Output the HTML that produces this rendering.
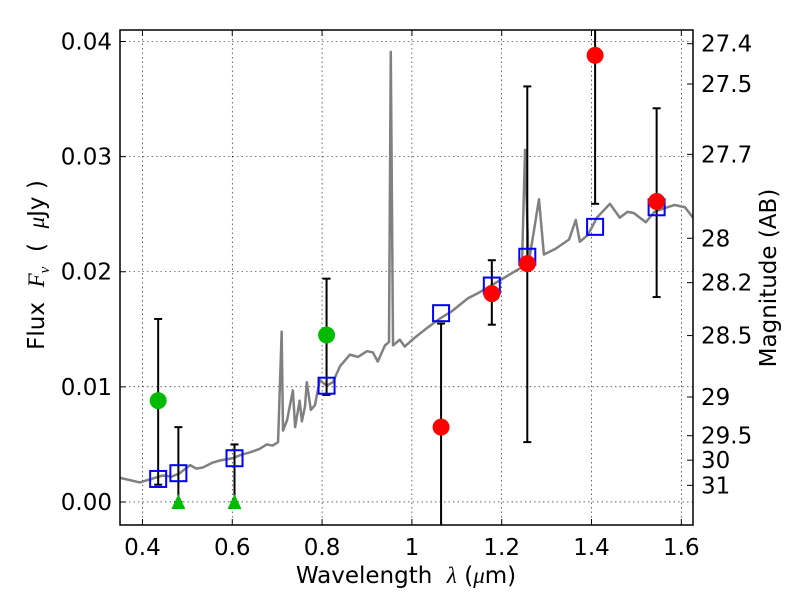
<!DOCTYPE html>
<html><head><meta charset="utf-8"><style>
body{margin:0;background:#fff}
svg{display:block;font-family:"DejaVu Sans","Liberation Sans",sans-serif}
text{white-space:pre}
</style></head><body>
<svg id="chart" width="800" height="600"></svg>
<script>
const xTicks=[0.4,0.6,0.8,1.0,1.2,1.4,1.6];
const xTickLabels=["0.4","0.6","0.8","1","1.2","1.4","1.6"];
const yTicks=[0,0.01,0.02,0.03,0.04];
const yTickLabels=["0.00","0.01","0.02","0.03","0.04"];
const magTicks=[27.4,27.5,27.7,28,28.2,28.5,29,29.5,30,31];
const specLam=[0.35,0.372,0.394,0.42,0.445,0.465,0.483,0.506,0.52,0.535,0.555,0.572,0.6,0.62,0.639,0.66,0.677,0.69,0.702,0.710,0.713,0.722,0.735,0.740,0.750,0.755,0.762,0.766,0.775,0.784,0.795,0.81,0.824,0.84,0.862,0.88,0.9,0.913,0.924,0.94,0.949,0.953,0.958,0.973,0.984,1.004,1.03,1.065,1.09,1.125,1.15,1.185,1.215,1.245,1.252,1.26,1.283,1.294,1.32,1.35,1.365,1.374,1.392,1.412,1.441,1.463,1.48,1.494,1.521,1.54,1.561,1.585,1.608,1.626];
const specFlux=[0.0021,0.0019,0.0017,0.0020,0.0023,0.0022,0.0025,0.0032,0.0029,0.0030,0.0034,0.0036,0.0038,0.0041,0.0043,0.0046,0.0050,0.0049,0.0052,0.0148,0.0062,0.0071,0.0097,0.0065,0.0088,0.0070,0.0083,0.0104,0.0080,0.0084,0.0106,0.0101,0.0104,0.0118,0.0128,0.0126,0.0131,0.0130,0.0122,0.0136,0.0139,0.0391,0.0136,0.0141,0.0135,0.0142,0.0150,0.0160,0.0166,0.0177,0.0182,0.0190,0.0197,0.0204,0.0306,0.0207,0.0263,0.0215,0.0220,0.0228,0.0245,0.0226,0.0232,0.0247,0.0259,0.0247,0.0252,0.0251,0.0243,0.0252,0.0255,0.0258,0.0256,0.0247];
const modelLam=[0.435,0.48,0.605,0.81,1.065,1.178,1.257,1.408,1.545];
const modelFlux=[0.0020,0.0025,0.0038,0.0101,0.0164,0.0188,0.0213,0.0239,0.0256];
const greenLam=[0.435,0.81];
const greenFlux=[0.0088,0.0145];
const greenLo=[0.0015,0.0093];
const greenHi=[0.0159,0.0194];
const limLam=[0.48,0.605];
const limFlux=[0,0];
const limHi=[0.0065,0.0050];
const redLam=[1.065,1.178,1.257,1.408,1.545];
const redFlux=[0.0065,0.0181,0.0207,0.0388,0.0261];
const redLo=[-0.01,0.0154,0.0052,0.0259,0.0178];
const redHi=[0.0155,0.0210,0.0361,0.05,0.0342];

const L=120,R=693,T=30,B=525,X0=0.35,X1=1.626,Y0=-0.002,Y1=0.041;
const FS=23;
const sx=v=>L+(v-X0)/(X1-X0)*(R-L);
const sy=v=>B-(v-Y0)/(Y1-Y0)*(B-T);
const NS="http://www.w3.org/2000/svg";
const svg=document.getElementById('chart');
function mk(tag,attrs,parent){const e=document.createElementNS(NS,tag);for(const k in attrs)e.setAttribute(k,attrs[k]);(parent||svg).appendChild(e);return e;}
const clip=mk('clipPath',{id:'pc'});mk('rect',{x:L,y:T,width:R-L,height:B-T},clip);
const plot=mk('g',{'clip-path':'url(#pc)'});


xTicks.forEach(v=>{const g=mk('line',{x1:sx(v),x2:sx(v),y1:T,y2:B,stroke:'#000','stroke-width':0.6,'stroke-dasharray':'1.5,3'},plot);

});
yTicks.forEach(v=>{const g=mk('line',{x1:L,x2:R,y1:sy(v),y2:sy(v),stroke:'#000','stroke-width':0.6,'stroke-dasharray':'1.5,3'},plot);

});
const sp=mk('polyline',{points:specLam.map((l,i)=>sx(l)+','+sy(specFlux[i])).join(' '),fill:'none',stroke:'#808080','stroke-width':2.5,'stroke-linejoin':'round'},plot);


function eb(l,lo,hi){const g=mk('g',{},plot);


mk('line',{x1:sx(l),x2:sx(l),y1:sy(lo),y2:sy(hi),stroke:'#000','stroke-width':2},g);
[lo,hi].forEach(v=>mk('line',{x1:sx(l)-4,x2:sx(l)+4,y1:sy(v),y2:sy(v),stroke:'#000','stroke-width':2},g));}
greenLam.forEach((l,i)=>eb(l,greenLo[i],greenHi[i]));
limLam.forEach((l,i)=>eb(l,limFlux[i],limHi[i]));
redLam.forEach((l,i)=>eb(l,redLo[i],redHi[i]));
modelLam.forEach((l,i)=>{const r=mk('rect',{x:sx(l)-8,y:sy(modelFlux[i])-8,width:16,height:16,fill:'none',stroke:'#0000ff','stroke-width':2},plot);

});
greenLam.forEach((l,i)=>{const c=mk('circle',{cx:sx(l),cy:sy(greenFlux[i]),r:8.5,fill:'#00bb00'},plot);

});
limLam.forEach((l,i)=>{const x=sx(l),y=sy(limFlux[i]);const t=mk('polygon',{points:`${x},${y-8} ${x-7},${y+7} ${x+7},${y+7}`,fill:'#00bb00'},plot);

});
redLam.forEach((l,i)=>{const c=mk('circle',{cx:sx(l),cy:sy(redFlux[i]),r:8.5,fill:'#ff0000'},plot);

});
const fr=mk('rect',{x:L,y:T,width:R-L,height:B-T,fill:'none',stroke:'#000','stroke-width':1.5});


xTicks.forEach((v,i)=>{const x=sx(v);
mk('line',{x1:x,x2:x,y1:B,y2:B-6,stroke:'#000'});mk('line',{x1:x,x2:x,y1:T,y2:T+6,stroke:'#000'});
const t=mk('text',{x:x,y:B+30,'text-anchor':'middle','font-size':FS});t.textContent=xTickLabels[i];

});
yTicks.forEach((v,i)=>{const y=sy(v);
mk('line',{x1:L,x2:L+6,y1:y,y2:y,stroke:'#000'});
const t=mk('text',{x:L-8,y:y+8,'text-anchor':'end','font-size':FS});t.textContent=yTickLabels[i];

});
magTicks.forEach(m=>{const y=sy(Math.pow(10,(23.9-m)/2.5));
mk('line',{x1:R,x2:R-6,y1:y,y2:y,stroke:'#000'});
const t=mk('text',{x:R+8,y:y+8,'font-size':FS});t.textContent=String(m);

});
const xt=document.createElementNS(NS,'text');
xt.setAttribute('x',406);xt.setAttribute('y',583);xt.setAttribute('text-anchor','middle');xt.setAttribute('font-size',FS);


xt.innerHTML='Wavelength  <tspan font-style="italic" font-family="Liberation Serif,serif">λ</tspan> (<tspan font-style="italic" font-family="Liberation Serif,serif">μ</tspan>m)';
svg.appendChild(xt);
const yt=document.createElementNS(NS,'text');
yt.setAttribute('transform','translate(44,265) rotate(-90)');yt.setAttribute('text-anchor','middle');yt.setAttribute('font-size',FS);


yt.innerHTML='Flux  <tspan font-style="italic" font-family="Liberation Serif,serif">F<tspan font-size="15" dy="5">ν</tspan></tspan><tspan dy="-5">  (  </tspan><tspan font-style="italic" font-family="Liberation Serif,serif">μ</tspan>Jy )';
svg.appendChild(yt);
const rt=document.createElementNS(NS,'text');
rt.setAttribute('transform','translate(776,278) rotate(-90)');rt.setAttribute('text-anchor','middle');rt.setAttribute('font-size',FS);


rt.textContent='Magnitude (AB)';
svg.appendChild(rt);
</script>
</body></html>
